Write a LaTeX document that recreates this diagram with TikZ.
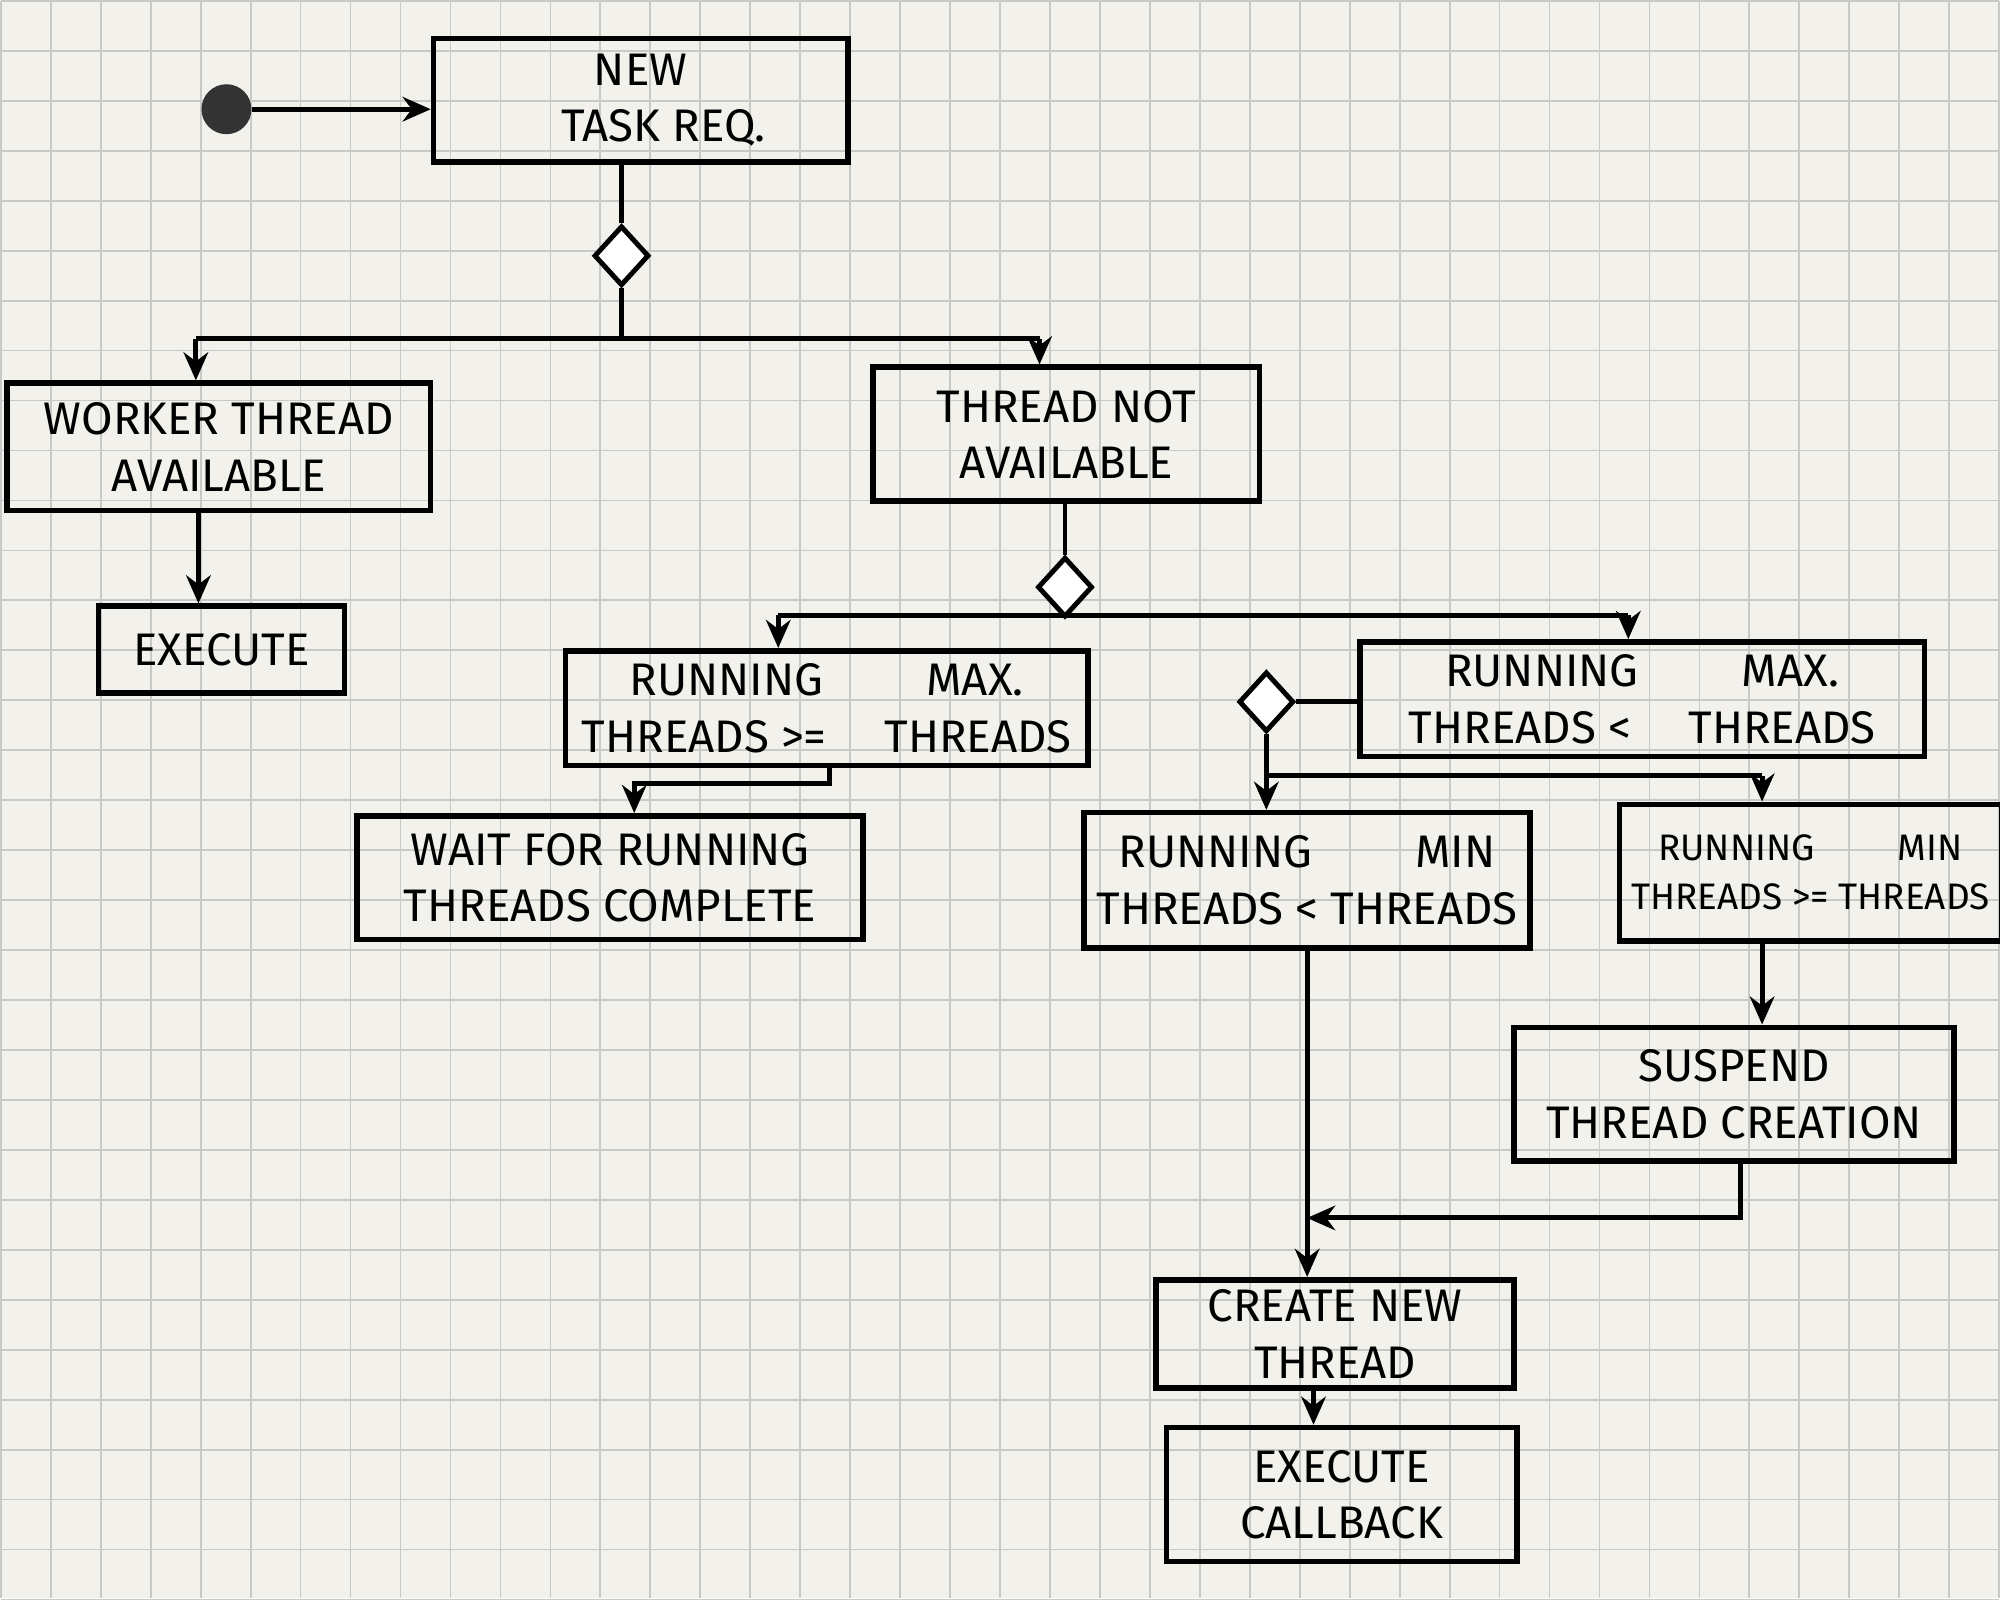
\documentclass[tikz,border=0pt]{standalone}
\usepackage{fontspec}
\setmainfont{Fira Sans}
\usetikzlibrary{shapes.geometric,arrows.meta}
\definecolor{paper}{RGB}{242,241,236}
\definecolor{gridc}{RGB}{200,200,198}
\begin{document}
\begin{tikzpicture}[x=0.012755cm,y=-0.012755cm,
  box/.style={draw,line width=1.6pt,align=center,font=\fontsize{13}{16}\selectfont,inner sep=0pt},
  dia/.style={draw,diamond,line width=1.4pt,inner sep=0pt,minimum width=0.55cm,minimum height=0.6cm,fill=white},
  ln/.style={line width=1.4pt},
  ar/.style={ln,-{Stealth[length=8pt,width=7pt]}}]
\fill[paper] (0,0) rectangle (1568,1253);
\foreach \i in {0,...,40} {\draw[gridc,line width=0.5pt] (\i*39.2,0) -- (\i*39.2,1253);}
\foreach \j in {0,...,32} {\draw[gridc,line width=0.5pt] (0,\j*39.2) -- (1568,\j*39.2);}
\useasboundingbox (0,0) rectangle (1568,1253);
\node[circle,fill=black!80,minimum size=0.5cm,inner sep=0pt] (s) at (177,85) {};
\node[box,minimum width=325*0.012755cm,minimum height=97*0.012755cm] (n) at (502,78) {NEW\\ \quad TASK REQ.};
\node[dia] (d1) at (487,200) {};
\coordinate (b1) at (487,265);
\coordinate (b1l) at (153,265);
\coordinate (b1r) at (815,265);
\node[box,minimum width=332*0.012755cm,minimum height=100*0.012755cm] (w) at (171,350) {WORKER THREAD\\AVAILABLE};
\node[box,minimum width=193*0.012755cm,minimum height=68*0.012755cm] (e) at (173,509) {EXECUTE};
\node[box,minimum width=303*0.012755cm,minimum height=105*0.012755cm] (t) at (836,340) {THREAD NOT\\AVAILABLE};
\node[dia] (d2) at (835,460) {};
\coordinate (b2) at (835,482);
\coordinate (b2l) at (610,482);
\coordinate (b2r) at (1277,482);
\node[box,minimum width=410*0.012755cm,minimum height=90*0.012755cm] (rm) at (648,555) {RUNNING \qquad MAX.\\THREADS >= \quad THREADS};
\node[box,minimum width=397*0.012755cm,minimum height=97*0.012755cm] (wt) at (478,688) {WAIT FOR RUNNING\\THREADS COMPLETE};
\node[box,minimum width=443*0.012755cm,minimum height=90*0.012755cm] (rl) at (1288,548) {RUNNING \qquad MAX.\\THREADS < \quad THREADS};
\node[dia] (d3) at (993,550) {};
\coordinate (b3) at (993,608);
\coordinate (b3r) at (1382,608);
\node[box,minimum width=350*0.012755cm,minimum height=106*0.012755cm] (nl) at (1025,690) {RUNNING \qquad MIN\\THREADS < THREADS};
\node[box,minimum width=300*0.012755cm,minimum height=107*0.012755cm,font=\fontsize{10.5}{14}\selectfont] (ng) at (1420,684) {RUNNING \qquad MIN\\THREADS >= THREADS};
\node[box,minimum width=345*0.012755cm,minimum height=105*0.012755cm] (su) at (1360,858) {SUSPEND\\THREAD CREATION};
\node[box,minimum width=281*0.012755cm,minimum height=85*0.012755cm] (c) at (1047,1046) {CREATE NEW\\THREAD};
\node[box,minimum width=275*0.012755cm,minimum height=105*0.012755cm] (x) at (1052,1172) {EXECUTE\\CALLBACK};
\coordinate (p1) at (155,400);
\coordinate (p2) at (650,600);
\coordinate (p3) at (497,614);
\coordinate (p4) at (1382,737);
\coordinate (p5) at (1365,910);
\coordinate (p6) at (1025,743);
\coordinate (p7) at (1030,1088);
\draw[ar] (s) -- (n.west|-s);
\draw[ln] (n.south-|d1.north) -- (d1.north);
\draw[ln] (d1.south) -- (b1);
\draw[ln] (b1l) -- (b1r);
\draw[ar] (b1l) -- (b1l|-w.north);
\draw[ar] (b1r) -- (b1r|-t.north);
\draw[ar] (p1) -- (p1|-e.north);
\draw[ln] (t.south-|d2.north) -- (d2.north);
\draw[ln] (b2l) -- (b2r);
\draw[ar] (b2l) -- (b2l|-rm.north);
\draw[ar] (b2r) -- (b2r|-rl.north);
\draw[ar] (p2) -- (p2|-p3) -- (p3) -- (p3|-wt.north);
\draw[ln] (rl.west|-d3) -- (d3.east);
\draw[ar] (d3.south) -- (d3.south|-nl.north);
\draw[ln] (b3) -- (b3r);
\draw[ar] (b3r) -- (b3r|-ng.north);
\draw[ar] (p4) -- (p4|-su.north);
\coordinate (p8) at (1365,955);
\draw[ar] (p5) -- (p8) -- (p8-|p6);
\draw[ar] (p6) -- (p6|-c.north);
\draw[ar] (p7) -- (p7|-x.north);
\end{tikzpicture}
\end{document}
